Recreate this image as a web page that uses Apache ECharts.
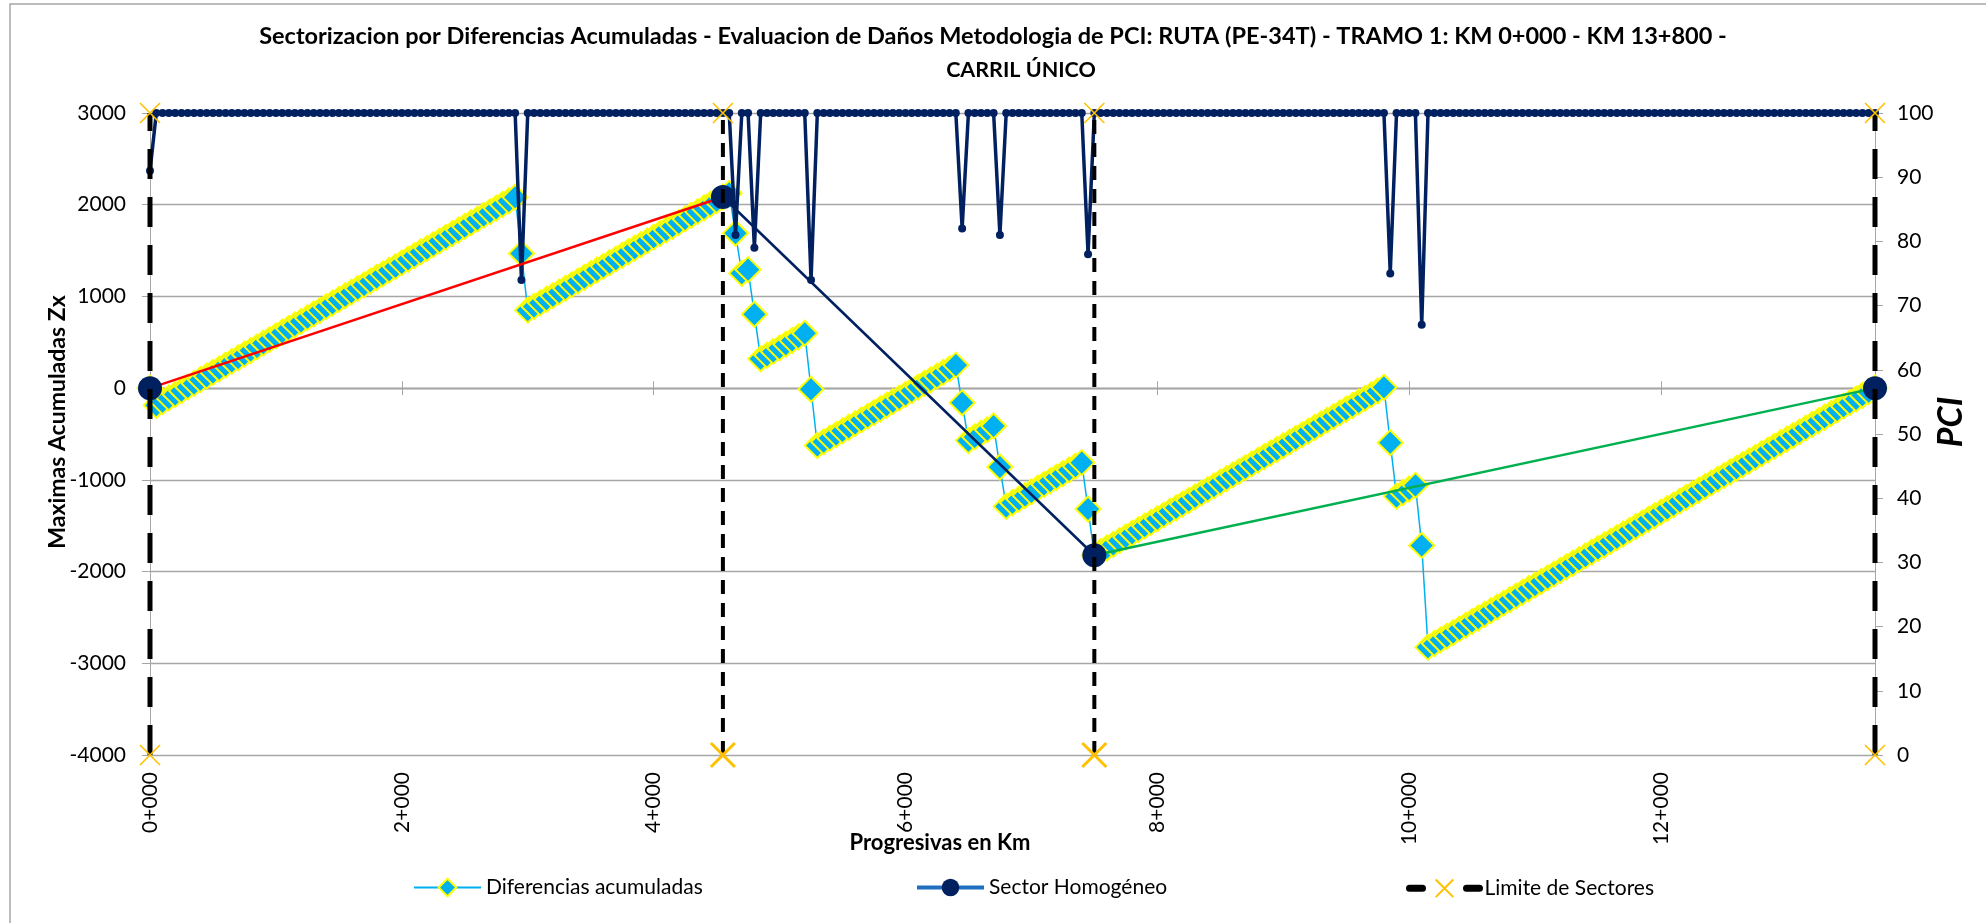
<!DOCTYPE html>
<html><head><meta charset="utf-8">
<script src="https://cdn.jsdelivr.net/npm/echarts@6/dist/echarts.min.js"></script>
<style>html,body{margin:0;padding:0;background:#fff;overflow:hidden}#c{width:1986px;height:923px}</style>
</head><body><div id="c"></div>
<script>
// Progresivas (m)
const stations = [
0,50,100,150,200,250,300,350,400,450,500,550,600,650,700,750,800,850,900,950,
1000,1050,1100,1150,1200,1250,1300,1350,1400,1450,1500,1550,1600,1650,1700,1750,1800,1850,1900,1950,
2000,2050,2100,2150,2200,2250,2300,2350,2400,2450,2500,2550,2600,2650,2700,2750,2800,2850,2900,2950,
3000,3050,3100,3150,3200,3250,3300,3350,3400,3450,3500,3550,3600,3650,3700,3750,3800,3850,3900,3950,
4000,4050,4100,4150,4200,4250,4300,4350,4400,4450,4500,4550,4600,4650,4700,4750,4800,4850,4900,4950,
5000,5050,5100,5150,5200,5250,5300,5350,5400,5450,5500,5550,5600,5650,5700,5750,5800,5850,5900,5950,
6000,6050,6100,6150,6200,6250,6300,6350,6400,6450,6500,6550,6600,6650,6700,6750,6800,6850,6900,6950,
7000,7050,7100,7150,7200,7250,7300,7350,7400,7450,7500,7550,7600,7650,7700,7750,7800,7850,7900,7950,
8000,8050,8100,8150,8200,8250,8300,8350,8400,8450,8500,8550,8600,8650,8700,8750,8800,8850,8900,8950,
9000,9050,9100,9150,9200,9250,9300,9350,9400,9450,9500,9550,9600,9650,9700,9750,9800,9850,9900,9950,
10000,10050,10100,10150,10200,10250,10300,10350,10400,10450,10500,10550,10600,10650,10700,10750,10800,10850,10900,10950,
11000,11050,11100,11150,11200,11250,11300,11350,11400,11450,11500,11550,11600,11650,11700,11750,11800,11850,11900,11950,
12000,12050,12100,12150,12200,12250,12300,12350,12400,12450,12500,12550,12600,12650,12700,12750,12800,12850,12900,12950,
13000,13050,13100,13150,13200,13250,13300,13350,13400,13450,13500,13550,13600,13650,13700
];
// Diferencias acumuladas (Zx)
const zx = [
0,-187,-147,-107,-68,-28,12,52,92,131,171,211,251,291,330,370,410,450,490,529,
569,609,649,689,728,768,808,848,888,927,967,1007,1047,1087,1126,1166,1206,1246,1286,1325,
1365,1405,1445,1485,1524,1564,1604,1644,1684,1723,1763,1803,1843,1883,1922,1962,2002,2042,2082,1468,
850,890,930,969,1009,1049,1089,1129,1168,1208,1248,1288,1328,1367,1407,1447,1487,1527,1566,1606,
1646,1686,1726,1765,1805,1845,1885,1925,1964,2004,2044,2084,2124,1688,1252,1292,806,320,360,400,
439,479,519,559,599,-12,-625,-585,-545,-506,-466,-426,-386,-346,-307,-267,-227,-187,-147,-108,
-68,-28,12,52,91,131,171,211,251,-160,-572,-532,-492,-453,-413,-860,-1290,-1250,-1210,-1171,
-1131,-1091,-1051,-1011,-972,-932,-892,-852,-812,-1318,-1822,-1782,-1742,-1703,-1663,-1623,-1583,-1543,-1504,-1464,
-1424,-1384,-1344,-1305,-1265,-1225,-1185,-1145,-1106,-1066,-1026,-986,-946,-907,-867,-827,-787,-747,-708,-668,
-628,-588,-548,-509,-469,-429,-389,-349,-310,-270,-230,-190,-150,-111,-71,-31,9,-595,-1180,-1140,
-1100,-1060,-1715,-2824,-2784,-2744,-2705,-2665,-2625,-2585,-2545,-2506,-2466,-2426,-2386,-2346,-2307,-2267,-2227,-2187,
-2147,-2108,-2068,-2028,-1988,-1948,-1909,-1869,-1829,-1789,-1749,-1710,-1670,-1630,-1590,-1550,-1511,-1471,-1431,-1391,
-1351,-1312,-1272,-1232,-1192,-1152,-1113,-1073,-1033,-993,-953,-914,-874,-834,-794,-754,-715,-675,-635,-595,
-555,-516,-476,-436,-396,-356,-317,-277,-237,-197,-157,-118,-78,-38,0
];
// PCI
const pci = [
91,100,100,100,100,100,100,100,100,100,100,100,100,100,100,100,100,100,100,100,
100,100,100,100,100,100,100,100,100,100,100,100,100,100,100,100,100,100,100,100,
100,100,100,100,100,100,100,100,100,100,100,100,100,100,100,100,100,100,100,74,
100,100,100,100,100,100,100,100,100,100,100,100,100,100,100,100,100,100,100,100,
100,100,100,100,100,100,100,100,100,100,100,100,100,81,100,100,79,100,100,100,
100,100,100,100,100,74,100,100,100,100,100,100,100,100,100,100,100,100,100,100,
100,100,100,100,100,100,100,100,100,82,100,100,100,100,100,81,100,100,100,100,
100,100,100,100,100,100,100,100,100,78,100,100,100,100,100,100,100,100,100,100,
100,100,100,100,100,100,100,100,100,100,100,100,100,100,100,100,100,100,100,100,
100,100,100,100,100,100,100,100,100,100,100,100,100,100,100,100,100,75,100,100,
100,100,67,100,100,100,100,100,100,100,100,100,100,100,100,100,100,100,100,100,
100,100,100,100,100,100,100,100,100,100,100,100,100,100,100,100,100,100,100,100,
100,100,100,100,100,100,100,100,100,100,100,100,100,100,100,100,100,100,100,100,
100,100,100,100,100,100,100,100,100,100,100,100,100,100,100
];
// Sectores homogeneos
const sectorStations = [0, 4550, 7500, 13700];
const sectorZx = [0, 2084, -1822, 0];
const limitRange = [-4000, 3000];
const zxTicks = {min: -4000, max: 3000, interval: 1000};
const pciTicks = {min: 0, max: 100, interval: 10};
const titleLines = ['Sectorizacion por Diferencias Acumuladas - Evaluacion de Daños Metodologia de PCI: RUTA (PE-34T) - TRAMO 1: KM 0+000 - KM 13+800 -', 'CARRIL ÚNICO'];

const F = 'Lato, "Open Sans", sans-serif';
const GRAY = '#A6A6A6';
const NAVY = '#002060';
const XPATH = 'path://M0,0L10,10M10,0L0,10';
function fmt(v){ v = Number(v); const k = Math.floor(v/1000); const m = v % 1000; return k + '+' + String(m).padStart(3,'0'); }
const idx = s => stations.indexOf(s);
const sectorPts = sectorStations.map((s,i)=>[idx(s), sectorZx[i]]);

const series = [
  {name:'Diferencias acumuladas', type:'line', data: zx, symbol:'diamond', symbolSize:25, showAllSymbol:true,
   lineStyle:{color:'#00B0F0', width:1.5}, itemStyle:{color:'#00B0F0', borderColor:'#FFFF00', borderWidth:2}, z:2},
  {name:'PCI', type:'line', yAxisIndex:1, data: pci, symbol:'circle', symbolSize:8, showAllSymbol:true,
   lineStyle:{color:NAVY, width:3.5}, itemStyle:{color:NAVY}, z:3},
  {name:'seg1', type:'line', data:[sectorPts[0], sectorPts[1]], symbol:'none', lineStyle:{color:'#FF0000', width:2.5}, z:5},
  {name:'seg2', type:'line', data:[sectorPts[1], sectorPts[2]], symbol:'none', lineStyle:{color:NAVY, width:2.5}, z:5},
  {name:'seg3', type:'line', data:[sectorPts[2], sectorPts[3]], symbol:'none', lineStyle:{color:'#00B050', width:2.5}, z:5},
  {name:'Sector Homogéneo', type:'line', data: sectorPts, symbol:'circle', symbolSize:24, showAllSymbol:true,
   lineStyle:{color:NAVY, width:2.5, opacity:0}, itemStyle:{color:NAVY}, z:6}
];
sectorStations.forEach((s, k) => {
  const edge = (k === 0 || k === sectorStations.length - 1);
  series.push({name:'Limite de Sectores', type:'line', showAllSymbol:true,
    data:[
      {value:[idx(s), limitRange[0]], symbolSize: edge ? 20 : 24, itemStyle:{borderWidth: edge ? 1.6 : 3}},
      {value:[idx(s), limitRange[1]], symbolSize: 20, itemStyle:{borderWidth:1.6}}
    ],
    symbol: XPATH,
    lineStyle:{color:'#000', width: edge ? 5 : 4, type: edge ? [30,18] : [14,9]},
    itemStyle:{color:'none', borderColor:'#FFC000', borderWidth:1.6}, z:8});
});

const chart = echarts.init(document.getElementById('c'), null, {renderer:'canvas'});
chart.setOption({
  animation:false,
  backgroundColor:'#fff',
  grid:{left:150, right:111, top:113, bottom:168, containLabel:false},
  legend:[
    {data:['Diferencias acumuladas'], left:408, top:872, itemWidth:67, itemHeight:22, textStyle:{fontFamily:F, fontSize:21, color:'#000'}},
    {data:['Sector Homogéneo'], left:910, top:872, itemWidth:67, itemHeight:22, lineStyle:{color:'#1F6FC0', width:4, opacity:1}, textStyle:{fontFamily:F, fontSize:21, color:'#000'}},
    {data:['Limite de Sectores'], left:1401, top:872, itemWidth:70, itemHeight:22, lineStyle:{color:'#000', width:7, type:[13,44], cap:'round'}, textStyle:{fontFamily:F, fontSize:21, color:'#000'}}
  ],
  xAxis:[
    {type:'category', data:stations, boundaryGap:false, position:'bottom',
     axisLine:{show:false, onZero:false}, axisTick:{show:false}, splitLine:{show:false},
     axisLabel:{interval:39, rotate:90, margin:17, fontFamily:F, fontSize:21, color:'#000', formatter:fmt}},
    {type:'category', data:stations, boundaryGap:false, position:'bottom',
     axisLine:{show:true, onZero:true, onZeroAxisIndex:0, lineStyle:{color:GRAY, width:1.3}},
     axisTick:{show:true, interval:39, length:7, lineStyle:{color:GRAY}}, axisLabel:{show:false}, splitLine:{show:false}},
    {type:'category', data:stations, boundaryGap:false, position:'top',
     axisLine:{show:true, onZero:true, onZeroAxisIndex:0, lineStyle:{color:GRAY, width:1.3}},
     axisTick:{show:true, interval:39, length:7, lineStyle:{color:GRAY}}, axisLabel:{show:false}, splitLine:{show:false}}
  ],
  yAxis:[
    {type:'value', position:'left', min:zxTicks.min, max:zxTicks.max, interval:zxTicks.interval,
     axisLine:{show:true, lineStyle:{color:GRAY}}, axisTick:{show:true, length:8, lineStyle:{color:GRAY}},
     axisLabel:{margin:24, fontFamily:F, fontSize:21, color:'#000', formatter: v => String(v)},
     splitLine:{show:true, lineStyle:{color:GRAY, width:1.3}}},
    {type:'value', position:'right', min:pciTicks.min, max:pciTicks.max, interval:pciTicks.interval,
     axisLine:{show:true, lineStyle:{color:GRAY}}, axisTick:{show:true, length:8, lineStyle:{color:GRAY}},
     axisLabel:{margin:22, fontFamily:F, fontSize:21, color:'#000', formatter: v => String(v)},
     splitLine:{show:false}}
  ],
  graphic:[
    {type:'rect', shape:{x:10, y:4, width:2100, height:1100}, style:{fill:'none', stroke:GRAY, lineWidth:1.5}, z:-10, silent:true},
    {type:'text', x:993, y:36, style:{text:titleLines[0], fontFamily:F, fontSize:23.5, fontWeight:'bold', fill:'#000', textAlign:'center', textVerticalAlign:'middle'}},
    {type:'text', x:1021, y:70, style:{text:titleLines[1], fontFamily:F, fontSize:21.5, fontWeight:'bold', fill:'#000', textAlign:'center', textVerticalAlign:'middle'}},
    {type:'text', x:58, y:422, rotation:Math.PI/2, style:{text:'Maximas Acumuladas Zx', fontFamily:F, fontSize:23, fontWeight:'bold', fill:'#000', textAlign:'center', textVerticalAlign:'middle'}},
    {type:'text', x:1951, y:422, rotation:Math.PI/2, style:{text:'PCI', fontFamily:F, fontSize:34, fontWeight:'bold', fontStyle:'italic', fill:'#000', textAlign:'center', textVerticalAlign:'middle'}},
    {type:'text', x:940, y:843, style:{text:'Progresivas en Km', fontFamily:F, fontSize:22, fontWeight:'bold', fill:'#000', textAlign:'center', textVerticalAlign:'middle'}}
  ],
  series: series
});
</script>
</body></html>
